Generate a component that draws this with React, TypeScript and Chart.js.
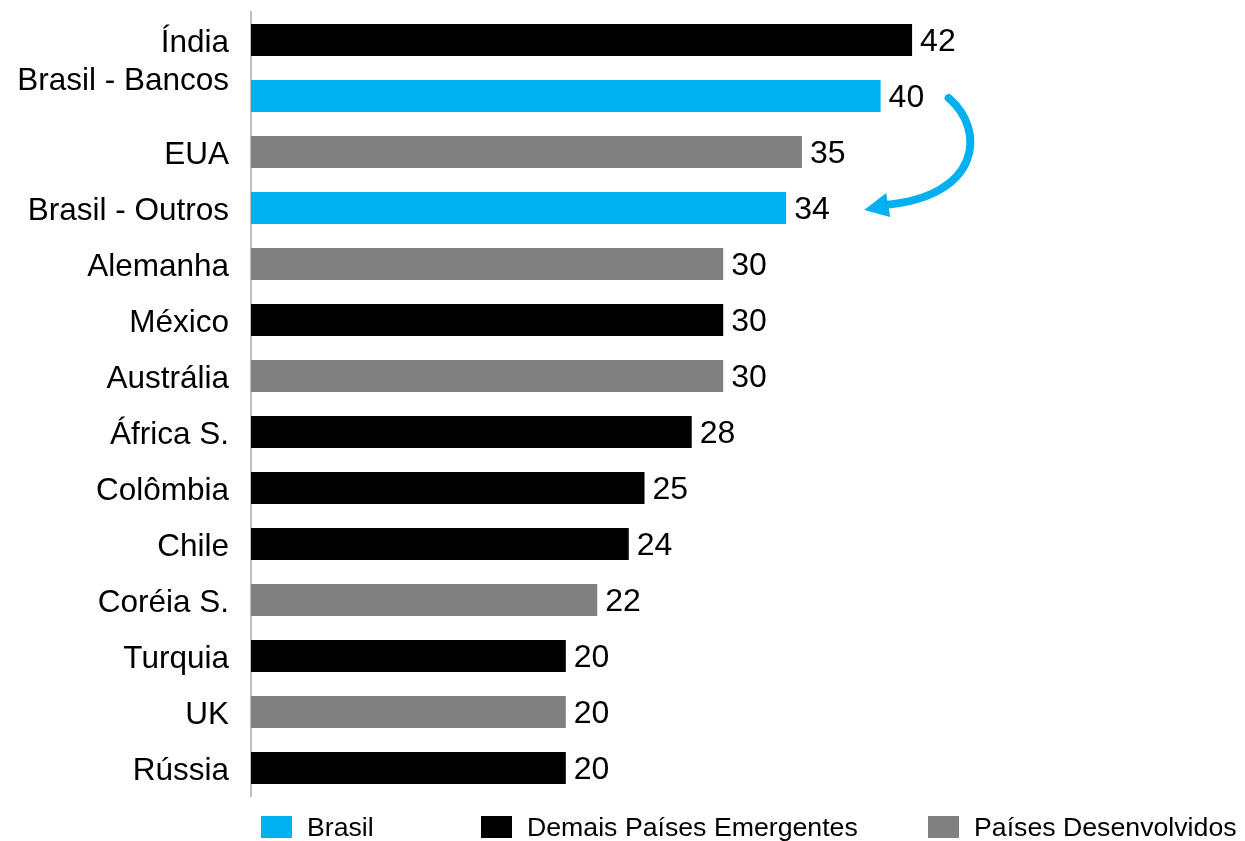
import React, { useEffect, useRef } from "react";
import { Chart, registerables } from "chart.js";

Chart.register(...registerables);

const categories = [
  "Índia",
  "Brasil - Bancos",
  "EUA",
  "Brasil - Outros",
  "Alemanha",
  "México",
  "Austrália",
  "África S.",
  "Colômbia",
  "Chile",
  "Coréia S.",
  "Turquia",
  "UK",
  "Rússia",
];
const values = [42, 40, 35, 34, 30, 30, 30, 28, 25, 24, 22, 20, 20, 20];
const groups = ["E", "B", "D", "B", "D", "E", "D", "E", "E", "E", "D", "E", "D", "E"];

const seriesKeys = ["B", "E", "D"];
const seriesNames = ["Brasil", "Demais Países Emergentes", "Países Desenvolvidos"];
const seriesColors = ["#00B0F0", "#000000", "#808080"];

const FONT = '"Liberation Sans", Arial, sans-serif';
const legendX = [261, 481, 928];

const valueLabels = {
  id: "valueLabels",
  afterDatasetsDraw(chart: any) {
    const ctx = chart.ctx;
    ctx.save();
    ctx.font = `32px ${FONT}`;
    ctx.fillStyle = "#000";
    ctx.textAlign = "left";
    ctx.textBaseline = "middle";
    chart.data.datasets.forEach((ds: any, di: number) => {
      const meta = chart.getDatasetMeta(di);
      meta.data.forEach((el: any, i: number) => {
        const v = ds.data[i];
        if (v == null) return;
        ctx.fillText(String(v), el.x + 8, el.y + 2);
      });
    });
    ctx.restore();
  },
};

const arrowPlugin = {
  id: "arrowPlugin",
  afterDatasetsDraw(chart: any) {
    const ctx = chart.ctx;
    const xs = chart.scales.x;
    const ys = chart.scales.y;
    const i1 = categories.indexOf("Brasil - Bancos");
    const i2 = categories.indexOf("Brasil - Outros");
    const sx = xs.getPixelForValue(values[i1]) + 68;
    const sy = ys.getPixelForValue(i1) + 2;
    const ex = xs.getPixelForValue(values[i2]) + 98;
    const ey = ys.getPixelForValue(i2) - 3;
    ctx.save();
    ctx.strokeStyle = "#00B0F0";
    ctx.fillStyle = "#00B0F0";
    ctx.lineCap = "round";
    ctx.lineWidth = 8;
    ctx.beginPath();
    ctx.moveTo(sx, sy);
    ctx.bezierCurveTo(sx + 38, sy + 32, sx + 32, ey - 8, ex, ey);
    ctx.stroke();
    // arrow head
    ctx.beginPath();
    ctx.moveTo(ex - 20, ey + 5);
    ctx.lineTo(ex + 2, ey - 12);
    ctx.lineTo(ex + 6, ey + 12);
    ctx.closePath();
    ctx.fill();
    ctx.restore();
  },
};

const legendPlugin = {
  id: "customLegend",
  afterDraw(chart: any) {
    const ctx = chart.ctx;
    ctx.save();
    ctx.font = `26.7px ${FONT}`;
    ctx.textBaseline = "middle";
    ctx.textAlign = "left";
    chart.data.datasets.forEach((ds: any, i: number) => {
      const x = legendX[i];
      ctx.fillStyle = ds.backgroundColor;
      ctx.fillRect(x, 816, 31, 22);
      ctx.fillStyle = "#000";
      ctx.fillText(ds.label, x + 46, 829);
    });
    ctx.restore();
  },
};

export default function App() {
  const ref = useRef<HTMLCanvasElement | null>(null);
  useEffect(() => {
    if (!ref.current) return;
    const datasets = seriesKeys.map((k, si) => ({
      label: seriesNames[si],
      data: values.map((v, i) => (groups[i] === k ? v : null)),
      backgroundColor: seriesColors[si],
      borderWidth: 0,
      barPercentage: 0.57,
      categoryPercentage: 1,
    }));
    const chart = new Chart(ref.current, {
      type: "bar",
      data: { labels: categories, datasets },
      options: {
        indexAxis: "y",
        animation: false,
        responsive: false,
        maintainAspectRatio: false,
        layout: { padding: { top: 12, bottom: 45, left: 0, right: 207 } },
        plugins: {
          legend: { display: false },
          tooltip: { enabled: false },
        },
        scales: {
          x: {
            display: false,
            stacked: true,
            min: 0,
            max: 50,
          },
          y: {
            stacked: true,
            grid: { display: false, drawTicks: false },
            border: { display: true, color: "#BFBFBF", width: 2 },
            afterFit: (scale: any) => {
              scale.width = 251;
              scale.paddingTop = 0;
              scale.paddingBottom = 0;
            },
            ticks: {
              autoSkip: false,
              padding: 22,
              labelOffset: 3,
              color: "#000",
              font: { family: FONT, size: 31.5, lineHeight: 1.15 },
              callback: function (this: any, val: any) {
                const l = categories[val as number];
                return l === "Brasil - Bancos" ? [l, ""] : l;
              },
            },
          },
        },
      },
      plugins: [valueLabels, arrowPlugin, legendPlugin],
    });
    return () => chart.destroy();
  }, []);
  return (
    <div style={{ position: "absolute", left: 0, top: 0, width: 1245, height: 841, background: "#fff" }}>
      <canvas ref={ref} width={1245} height={841} style={{ display: "block" }} />
    </div>
  );
}
